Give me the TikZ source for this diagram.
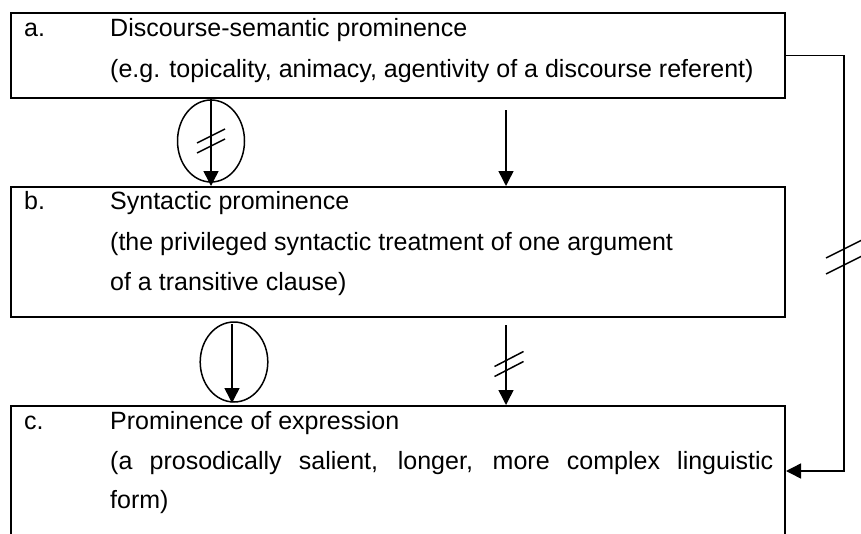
\documentclass[tikz,border=0pt]{standalone}
\usepackage{fontspec}
\setmainfont{Liberation Sans}
\usepackage{xcolor}
\usetikzlibrary{arrows.meta}
\definecolor{nero}{HTML}{000000}

\tikzset{
  box/.style={draw=nero, line width=2pt, minimum width=774pt, inner sep=0pt},
  testo/.style={anchor=base west, inner sep=0pt, font=\fontsize{25}{30}\selectfont},
  freccia/.style={draw=nero, line width=1.5pt, -{Triangle[width=15pt,length=15pt]}},
  linea/.style={draw=nero, line width=1.5pt}
}

\begin{document}
\begin{tikzpicture}[x=1pt, y=-1pt]
  \useasboundingbox (0,0) rectangle (861,533);
  % Box a
  \node[box, minimum height=85pt] (boxa) at (398,55.5) {};
  \node[testo] (la) at (24,36) {a.};
  \node[testo] (ta1) at (110,36) {Discourse-semantic prominence};
  \node[testo] (ta2) at (110,77) {(e.g. topicality, animacy, agentivity of a discourse referent)};
  % Box b
  \node[box, minimum height=130pt] (boxb) at (398,252) {};
  \node[testo] (lb) at (24,209) {b.};
  \node[testo] (tb1) at (110,209) {Syntactic prominence};
  \node[testo] (tb2) at (110,250) {(the privileged syntactic treatment of one argument};
  \node[testo] (tb3) at (110,290) {of a transitive clause)};
  % Box c
  \node[box, minimum height=130pt] (boxc) at (398,471) {};
  \node[testo] (lc) at (24,429) {c.};
  \node[testo] (tc1) at (110,429) {Prominence of expression};
  \node[testo] (tc2) at (110,469) {\makebox[663pt][s]{(a prosodically salient, longer, more complex linguistic}};
  \node[testo] (tc3) at (110,508) {form)};
  % Ellipses
  \draw[linea] (211,141) ellipse (33.5pt and 41pt);
  \coordinate (e1) at (211,141);
  \draw[linea] (234,362) ellipse (33.8pt and 40pt);
  \coordinate (e2) at (234,362);
  % Arrows on the left
  \draw[freccia] (boxa.south -| e1) -- (boxb.north -| e1);
  \draw[linea] ([shift={(-14,-5+7)}]e1) -- ++(28,-14);
  \draw[linea] ([shift={(-14,5+7)}]e1) -- ++(28,-14);
  \coordinate (e2top) at (232,324);
  \coordinate (e2bot) at (232,403);
  \draw[freccia] (e2top) -- (e2bot);
  % Arrows in the middle
  \coordinate (m1) at (506,110);
  \coordinate (m2) at (506,325);
  \coordinate (m2s) at (509,364);
  \draw[freccia] (m1) -- (m1 |- boxb.north);
  \draw[freccia] (m2) -- (m2 |- boxc.north);
  \draw[linea] ([shift={(-14.5,-5+7.5)}]m2s) -- ++(29,-15);
  \draw[linea] ([shift={(-14.5,5+7.5)}]m2s) -- ++(29,-15);
  % Connector on the right
  \coordinate (rt) at (844,257);
  \draw[freccia] (boxa.east) -| (rt) |- (boxc.east);
  \draw[linea] ([shift={(-18,-8+9)}]rt) -- ++(36,-18);
  \draw[linea] ([shift={(-18,8+9)}]rt) -- ++(36,-18);
\end{tikzpicture}
\end{document}
